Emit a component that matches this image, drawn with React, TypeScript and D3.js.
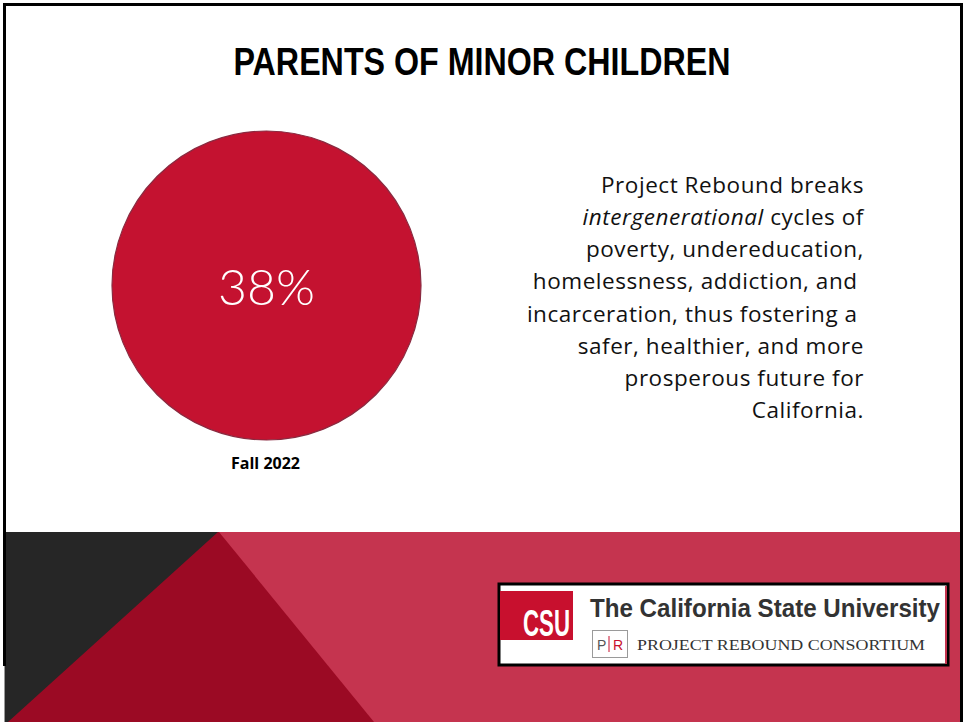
import React from "react";
import * as d3 from "d3";

const title = "PARENTS OF MINOR CHILDREN";
const categories = ["Fall 2022"];
const values = [38];
const bodyLines = [
  { text: "Project Rebound breaks", italic: "" },
  { text: " cycles of", italic: "intergenerational" },
  { text: "poverty, undereducation,", italic: "" },
  { text: "homelessness, addiction, and\u00a0", italic: "" },
  { text: "incarceration, thus fostering a\u00a0", italic: "" },
  { text: "safer, healthier, and more", italic: "" },
  { text: "prosperous future for", italic: "" },
  { text: "California.", italic: "" },
];

const W = 963;
const H = 722;

export default function App() {
  const cx = 266.5;
  const cy = 285.5;
  const r = 154.5;
  const rScale = d3.scaleSqrt().domain([0, d3.max(values) as number]).range([0, r]);
  const pie = d3.pie<number>().sort(null).value(() => 1);
  const arcs = pie(values);
  const arc = d3.arc<d3.PieArcDatum<number>>().innerRadius(0).outerRadius((d) => rScale(d.data));

  const lineY = d3.scaleLinear().domain([0, bodyLines.length - 1]).range([193, 418]);

  return (
    <div style={{ position: "fixed", left: 0, top: 0, width: W, height: H, background: "#fff" }}>
      <svg width={W} height={H} viewBox={`0 0 ${W} ${H}`} style={{ display: "block" }}>
        <rect x={0} y={0} width={W} height={H} fill="#ffffff" />
        {/* bottom band */}
        <rect x={5} y={532} width={955} height={190} fill="#c5344f" />
        <path d="M5,532 L219,532 L374,722 L5,722 Z" fill="#9b0a24" />
        <path d="M5,532 L218,532 L8,722 L5,722 Z" fill="#262626" />
        {/* borders */}
        <rect x={3} y={3} width={960} height={3} fill="#000" />
        <rect x={3} y={3} width={3} height={663} fill="#000" />
        <rect x={4} y={666} width={1} height={56} fill="#9a9a9a" />
        <rect x={960} y={3} width={3} height={719} fill="#000" />

        {/* title */}
        <text
          x={482}
          y={75}
          textAnchor="middle"
          fontFamily="'Liberation Sans', Arial, sans-serif"
          fontWeight={700}
          fontSize={38}
          fill="#000"
          textLength={497}
          lengthAdjust="spacingAndGlyphs"
        >
          {title}
        </text>

        {/* circle */}
        <g transform={`translate(${cx},${cy})`}>
          {arcs.map((a, i) => (
            <path key={i} d={arc(a) || ""} fill="#c41230" stroke="#8a2a40" strokeWidth={1.2} />
          ))}
          {values.map((v, i) => (
            <text
              key={i}
              x={0}
              y={19}
              textAnchor="middle"
              fontFamily="Lato, 'Open Sans', sans-serif"
              fontWeight={300}
              fontSize={50}
              fill="#ffffff"
            >
              {v}%
            </text>
          ))}
        </g>
        {categories.map((c, i) => (
          <text
            key={i}
            x={cx - 1}
            y={469}
            textAnchor="middle"
            fontFamily="'Open Sans', 'Noto Sans', sans-serif"
            fontWeight={700}
            fontSize={16}
            fill="#000"
          >
            {c}
          </text>
        ))}

        {/* body text */}
        {bodyLines.map((l, i) => (
          <text
            key={i}
            x={864}
            y={lineY(i)}
            textAnchor="end"
            fontFamily="'Open Sans', 'Noto Sans', sans-serif"
            fontSize={22.5}
            letterSpacing={0.55}
            fill="#111"
            style={{ whiteSpace: "pre" }}
          >
            {l.italic ? <tspan fontStyle="italic">{l.italic}</tspan> : null}
            {l.text}
          </text>
        ))}

        {/* logo */}
        <rect x={499} y={584} width={449} height={81} fill="#ffffff" stroke="#000" strokeWidth={3} />
        <rect x={945} y={586} width={2} height={78} fill="#c5344f" />
        <rect x={500} y={591} width={73} height={49} fill="#c8102e" />
        <text
          x={570}
          y={636}
          textAnchor="end"
          fontFamily="'Liberation Sans', Arial, sans-serif"
          fontWeight={700}
          fontSize={37}
          fill="#ffffff"
          textLength={47}
          lengthAdjust="spacingAndGlyphs"
        >
          CSU
        </text>
        <g transform="translate(590,617) scale(1,1.18)">
          <text
            x={0}
            y={0}
            fontFamily="'Liberation Sans', Arial, sans-serif"
            fontWeight={700}
            fontSize={22}
            fill="#333333"
            textLength={350}
            lengthAdjust="spacingAndGlyphs"
          >
            The California State University
          </text>
        </g>
        <rect x={592.5} y={630.5} width={35} height={27} fill="#fff" stroke="#9a9a9a" strokeWidth={1} />
        <rect x={608.5} y={636} width={1} height={16} fill="#c8102e" />
        <text y={650} fontFamily="'Liberation Sans', Arial, sans-serif" fontSize={14}>
          <tspan x={597} fill="#555">P</tspan>
          <tspan x={613} fill="#c8102e">R</tspan>
        </text>
        <text
          x={637}
          y={650}
          fontFamily="'Liberation Serif', 'Times New Roman', serif"
          fontSize={15}
          fill="#333333"
          textLength={288}
          lengthAdjust="spacingAndGlyphs"
        >
          PROJECT REBOUND CONSORTIUM
        </text>
      </svg>
    </div>
  );
}
